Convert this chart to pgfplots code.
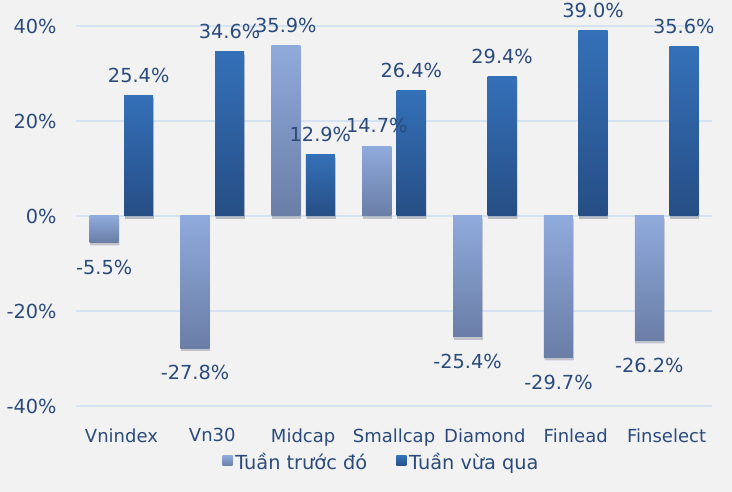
\documentclass[border=0pt]{standalone}
\usepackage{fontspec}
\setmainfont{DejaVu Sans}
\usepackage{pgfplots}
\pgfplotsset{compat=1.18}
\definecolor{bg}{HTML}{F2F2F2}
\definecolor{txt}{HTML}{2A4B7C}
\definecolor{gridc}{HTML}{D5E2F1}
\definecolor{lighttop}{HTML}{8FAADC}
\definecolor{lightbot}{HTML}{6A7EA6}
\definecolor{darktop}{HTML}{3470B8}
\definecolor{darkbot}{HTML}{264E85}
\pgfplotsset{
  shadow/.style={preaction={fill=black, opacity=0.14, transform canvas={xshift=0.5pt, yshift=-2.2pt}}},
  lb/.style={bar shift=-0.19, draw=none, shadow, top color=lighttop, bottom color=lightbot, forget plot},
  db/.style={bar shift=0.19, draw=none, shadow, top color=darktop, bottom color=darkbot, forget plot},
  neg/.style={every node near coord/.append style={inner ysep=13pt}},
}

\begin{document}
\begin{tikzpicture}[x=1pt,y=1pt]
\fill[bg] (0,0) rectangle (549,369);
\useasboundingbox (0,0) rectangle (549,369);
\begin{axis}[
  at={(57pt,64.5pt)}, anchor=south west,
  scale only axis, width=477pt, height=285pt,
  xmin=-0.5, xmax=6.5, ymin=-40, ymax=40,
  /pgf/number format/assume math mode=true,
  ytick={-40,-20,0,20,40},
  yticklabel={\pgfmathprintnumber{\tick}\%},
  xtick={0,...,6},
  xticklabels={Vnindex,Vn30,Midcap,Smallcap,Diamond,Finlead,Finselect},
  axis line style={draw=none},
  major tick style={draw=none},
  ymajorgrids, major grid style={gridc, line width=1.5pt},
  font=\fontsize{13.5}{16}\selectfont,
  ticklabel style={txt},
  yticklabel style={xshift=-11pt, font=\fontsize{14.5}{17}\selectfont},
  xticklabel style={yshift=-9pt},
  ybar, bar width=0.32,
  nodes near coords={\pgfmathprintnumber[fixed,fixed zerofill,precision=1]{\pgfplotspointmeta}\%},
  nodes near coords align={vertical},
  every node near coord/.append style={txt, font=\fontsize{14.5}{17}\selectfont, inner ysep=9.5pt},
  legend style={at={(0.481,-0.147)}, anchor=center, draw=none, fill=none,
    legend columns=2, text=txt, font=\fontsize{14.5}{17}\selectfont,
    /tikz/every even column/.append style={column sep=20pt}},
]
\addlegendimage{draw=none, legend image code/.code={\shade[draw=none, top color=lighttop, bottom color=lightbot] (0pt,-3pt) rectangle (7.5pt,4.5pt);}}
\addlegendentry{Tuần trước đó}
\addlegendimage{draw=none, legend image code/.code={\shade[draw=none, top color=darktop, bottom color=darkbot] (0pt,-3pt) rectangle (7.5pt,4.5pt);}}
\addlegendentry{Tuần vừa qua}

% Tuần trước đó
\addplot[lb, neg] coordinates {(0,-5.5)};
\addplot[lb, neg] coordinates {(1,-27.8)};
\addplot[lb] coordinates {(2,35.9)};
\addplot[lb] coordinates {(3,14.7)};
\addplot[lb, neg] coordinates {(4,-25.4)};
\addplot[lb, neg] coordinates {(5,-29.7)};
\addplot[lb, neg] coordinates {(6,-26.2)};

% Tuần vừa qua
\addplot[db] coordinates {(0,25.4)};
\addplot[db] coordinates {(1,34.6)};
\addplot[db] coordinates {(2,12.9)};
\addplot[db] coordinates {(3,26.4)};
\addplot[db] coordinates {(4,29.4)};
\addplot[db] coordinates {(5,39.0)};
\addplot[db] coordinates {(6,35.6)};
\end{axis}
\end{tikzpicture}
\end{document}
